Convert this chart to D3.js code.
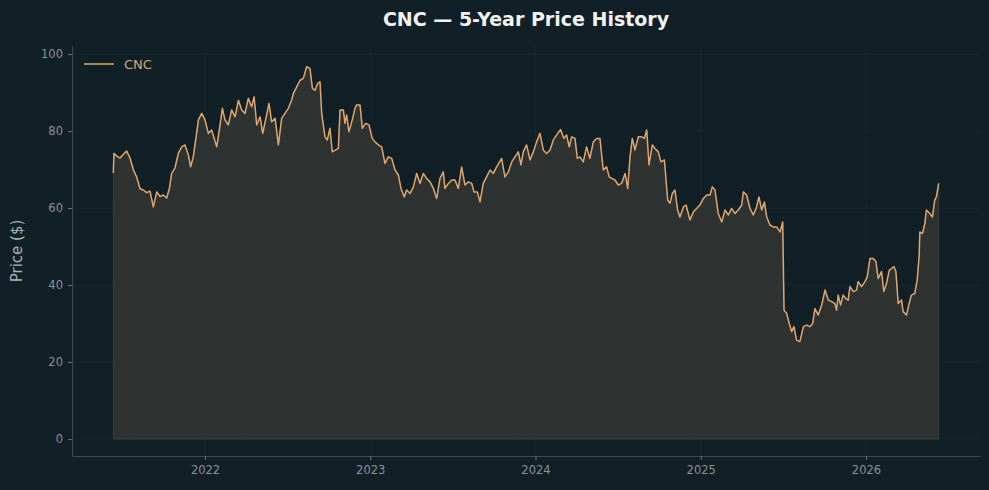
<!DOCTYPE html>
<html>
<head>
<meta charset="utf-8">
<script src="https://cdn.jsdelivr.net/npm/d3@7"></script>
<style>
  html, body { margin: 0; padding: 0; background: #111f26; }
  svg { display: block; font-family: "DejaVu Sans", sans-serif; }
</style>
</head>
<body>
<div id="app"></div>
<script>
// time as decimal year, price in $
const ticker = 'CNC'
const yearTicks = [2022, 2023, 2024, 2025, 2026]
const priceTicks = [0, 20, 40, 60, 80, 100]

const times = [
  2021.445, 2021.449, 2021.466, 2021.486, 2021.506, 2021.526, 2021.546, 2021.566, 2021.587, 2021.607,
  2021.627, 2021.647, 2021.667, 2021.687, 2021.708, 2021.728, 2021.748, 2021.768, 2021.784, 2021.798,
  2021.818, 2021.839, 2021.859, 2021.879, 2021.899, 2021.913, 2021.929, 2021.946, 2021.960, 2021.980,
  2022.000, 2022.020, 2022.040, 2022.071, 2022.091, 2022.105, 2022.121, 2022.141, 2022.161, 2022.182,
  2022.202, 2022.222, 2022.242, 2022.262, 2022.282, 2022.297, 2022.313, 2022.333, 2022.349, 2022.373,
  2022.387, 2022.403, 2022.424, 2022.444,
  2022.464, 2022.484, 2022.504, 2022.524, 2022.535, 2022.555, 2022.575, 2022.595, 2022.615, 2022.635,
  2022.650, 2022.666, 2022.682, 2022.696, 2022.706, 2022.726, 2022.740, 2022.756, 2022.770, 2022.791,
  2022.807, 2022.817, 2022.837, 2022.847, 2022.857, 2022.871, 2022.891, 2022.908, 2022.918, 2022.938,
  2022.952, 2022.972, 2022.992, 2023.012, 2023.029, 2023.049, 2023.069, 2023.089, 2023.109, 2023.130,
  2023.150, 2023.170, 2023.186, 2023.206, 2023.220, 2023.241, 2023.261, 2023.281, 2023.301, 2023.321,
  2023.341, 2023.362, 2023.382, 2023.402, 2023.422, 2023.442,
  2023.452, 2023.473, 2023.493, 2023.513, 2023.533, 2023.553, 2023.573, 2023.594, 2023.614, 2023.628,
  2023.648, 2023.664, 2023.684, 2023.704, 2023.725, 2023.745, 2023.765, 2023.795, 2023.815, 2023.836,
  2023.856, 2023.876, 2023.896, 2023.912, 2023.926, 2023.946, 2023.967, 2023.987, 2024.007, 2024.027,
  2024.047, 2024.067, 2024.088, 2024.108, 2024.128, 2024.152, 2024.172, 2024.188, 2024.204, 2024.219,
  2024.239, 2024.253, 2024.269, 2024.289, 2024.309, 2024.329, 2024.350, 2024.370, 2024.390, 2024.410,
  2024.430, 2024.446,
  2024.461, 2024.481, 2024.501, 2024.521, 2024.542, 2024.558, 2024.572, 2024.586, 2024.602, 2024.622,
  2024.642, 2024.659, 2024.673, 2024.687, 2024.707, 2024.723, 2024.743, 2024.759, 2024.780, 2024.800,
  2024.814, 2024.828, 2024.844, 2024.860, 2024.874, 2024.895, 2024.911, 2024.935, 2024.955, 2024.975,
  2024.995, 2025.016, 2025.036, 2025.056, 2025.070, 2025.086, 2025.106, 2025.127, 2025.147, 2025.167,
  2025.187, 2025.207, 2025.227, 2025.248, 2025.258, 2025.278, 2025.298, 2025.318, 2025.338, 2025.352,
  2025.369, 2025.385, 2025.399, 2025.419, 2025.439,
  2025.459, 2025.480, 2025.496, 2025.504, 2025.520, 2025.536, 2025.550, 2025.564, 2025.580, 2025.600,
  2025.621, 2025.641, 2025.661, 2025.677, 2025.691, 2025.711, 2025.732, 2025.752, 2025.772, 2025.792,
  2025.812, 2025.822, 2025.832, 2025.846, 2025.862, 2025.878, 2025.892, 2025.903, 2025.923, 2025.943,
  2025.953, 2025.973, 2025.994, 2026.008, 2026.024, 2026.044, 2026.060, 2026.074, 2026.094, 2026.108,
  2026.124, 2026.141, 2026.155, 2026.169, 2026.181, 2026.195, 2026.215, 2026.225, 2026.245, 2026.261,
  2026.275, 2026.295, 2026.310, 2026.322, 2026.326, 2026.342, 2026.356, 2026.366, 2026.386, 2026.402,
  2026.416, 2026.426, 2026.440
]

const prices = [
  69.1, 74.2, 73.5, 73.0, 74.0, 74.8, 73.0, 70.0, 68.0, 65.0,
  64.7, 64.0, 64.4, 60.3, 64.2, 63.0, 63.4, 62.6, 65.0, 69.0,
  70.4, 74.3, 75.9, 76.4, 73.8, 70.7, 73.3, 78.5, 82.9, 84.6,
  82.9, 79.4, 80.3, 75.9, 81.6, 85.9, 82.9, 81.6, 85.5, 83.7,
  88.0, 85.5, 84.6, 88.5, 86.3, 88.9, 81.6, 83.7, 79.4, 84.2,
  87.2, 82.4, 83.3, 76.4,
  83.3, 84.6, 85.9, 88.0, 89.8, 91.5, 93.2, 93.7, 96.7, 96.3,
  91.1, 90.6, 92.4, 92.8, 84.6, 78.5, 77.7, 80.7, 74.6, 75.1,
  75.5, 85.5, 85.5, 82.0, 84.2, 79.8, 82.9, 85.9, 86.8, 86.8,
  80.7, 82.0, 81.6, 78.1, 77.2, 76.4, 75.9, 71.6, 73.3, 72.9,
  69.9, 68.6, 65.1, 62.9, 64.7, 63.8, 65.5, 69.0, 66.4, 69.0,
  67.7, 66.8, 65.1, 62.5, 67.7, 69.4,
  65.1, 66.4, 67.3, 67.3, 65.1, 70.7, 66.0, 66.8, 66.4, 64.2,
  64.2, 61.6, 66.4, 68.1, 69.9, 69.0, 70.7, 72.9, 68.1, 69.4,
  72.0, 73.3, 74.6, 71.2, 74.6, 76.4, 72.5, 74.6, 77.2, 79.4,
  75.1, 74.2, 75.1, 77.7, 79.0, 80.4, 78.1, 79.0, 75.9, 78.5,
  78.1, 72.9, 73.3, 72.0, 75.9, 72.9, 77.2, 78.1, 78.1, 69.9,
  70.7, 68.1,
  67.7, 67.3, 66.0, 66.4, 69.0, 65.1, 73.3, 78.1, 75.1, 78.5,
  78.5, 78.1, 80.3, 71.2, 76.4, 75.5, 74.6, 72.0, 72.5, 62.1,
  61.2, 63.8, 64.7, 59.5, 57.7, 60.3, 60.8, 56.9, 59.0, 59.9,
  60.8, 62.5, 63.4, 63.4, 65.5, 64.7, 58.6, 56.4, 59.5, 58.2,
  59.9, 58.6, 59.5, 60.8, 64.2, 63.4, 59.9, 58.2, 60.3, 62.9,
  59.5, 61.6, 57.7, 55.6, 55.1,
  55.1, 53.8, 56.4, 33.5, 32.6, 30.0, 27.9, 29.2, 25.7, 25.3,
  29.2, 29.6, 29.2, 30.0, 33.9, 32.2, 34.8, 38.7, 36.1, 35.7,
  35.2, 33.5, 37.4, 34.8, 37.4, 36.5, 36.1, 39.6, 38.3, 38.7,
  40.9, 39.6, 40.9, 42.2, 46.9, 46.9, 46.1, 41.7, 43.5, 38.3,
  40.4, 43.9, 44.3, 44.8, 43.5, 35.2, 36.1, 33.1, 32.2, 35.2,
  37.4, 37.8, 41.3, 47.8, 53.8, 53.4, 56.0, 59.5, 58.6, 57.7,
  62.1, 62.9, 66.4
]

const data = times.map((t, i) => ({ t: t, price: prices[i] }))

const W = 989
const H = 490
const m = { top: 46, right: 9, bottom: 34, left: 72 }

const svg = d3.select('#app')
  .append('svg')
  .attr('width', W)
  .attr('height', H)

svg.append('rect')
  .attr('width', W)
  .attr('height', H)
  .attr('fill', '#111f26')

const x = d3.scaleLinear()
  .domain([2021.195, 2026.690])
  .range([m.left, W - m.right])

const y = d3.scaleLinear()
  .domain([-4.4, 102.1])
  .range([H - m.bottom, m.top])

// grid
const grid = svg.append('g').attr('stroke', '#ffffff').attr('stroke-opacity', 0.035)
grid.selectAll('.gx')
  .data(yearTicks)
  .enter()
  .append('line')
  .attr('x1', d => x(d)).attr('x2', d => x(d))
  .attr('y1', m.top).attr('y2', H - m.bottom)
grid.selectAll('.gy')
  .data(priceTicks)
  .enter()
  .append('line')
  .attr('x1', m.left).attr('x2', W - m.right)
  .attr('y1', d => y(d)).attr('y2', d => y(d))

// area + line
const area = d3.area()
  .x(d => x(d.t))
  .y0(y(0))
  .y1(d => y(d.price))

svg.append('path')
  .datum(data)
  .attr('d', area)
  .attr('fill', '#2e3332')
  .attr('stroke', '#3b3f3c')
  .attr('stroke-width', 1)

const line = d3.line()
  .x(d => x(d.t))
  .y(d => y(d.price))

svg.append('path')
  .datum(data)
  .attr('d', line)
  .attr('fill', 'none')
  .attr('stroke', '#dea66e')
  .attr('stroke-width', 1.5)
  .attr('stroke-linejoin', 'round')

// axes
const xAxis = d3.axisBottom(x)
  .tickValues(yearTicks)
  .tickFormat(d3.format('d'))
  .tickSizeInner(4)
  .tickSizeOuter(0)
  .tickPadding(6)

const yAxis = d3.axisLeft(y)
  .tickValues(priceTicks)
  .tickSizeInner(4)
  .tickSizeOuter(0)
  .tickPadding(5)

const gx = svg.append('g')
  .attr('transform', `translate(0, ${H - m.bottom})`)
  .call(xAxis)

const gy = svg.append('g')
  .attr('transform', `translate(${m.left}, 0)`)
  .call(yAxis)

;[gx, gy].forEach(g => {
  g.select('.domain').attr('stroke', '#3e4a50').attr('stroke-width', 1)
  g.selectAll('.tick line').attr('stroke', '#6b7478')
  g.selectAll('.tick text')
    .attr('fill', '#8a9296')
    .style('font-size', '11.5px')
    .style('font-family', '"DejaVu Sans", sans-serif')
})

// labels
svg.append('text')
  .attr('x', (m.left + W - m.right) / 2)
  .attr('y', 26)
  .attr('text-anchor', 'middle')
  .attr('fill', '#f2f2f2')
  .style('font-size', '19px')
  .style('font-weight', 'bold')
  .text('CNC — 5-Year Price History')

svg.append('text')
  .attr('transform', `translate(22, ${(m.top + H - m.bottom) / 2}) rotate(-90)`)
  .attr('text-anchor', 'middle')
  .attr('fill', '#a9b0b3')
  .style('font-size', '15px')
  .text('Price ($)')

// legend
const legend = svg.append('g')
legend.append('line')
  .attr('x1', 84).attr('x2', 114)
  .attr('y1', 64).attr('y2', 64)
  .attr('stroke', '#dea66e')
  .attr('stroke-width', 1.5)
legend.append('text')
  .attr('x', 124)
  .attr('y', 69)
  .attr('fill', '#d8a878')
  .style('font-size', '13px')
  .text(ticker)
</script>
</body>
</html>
